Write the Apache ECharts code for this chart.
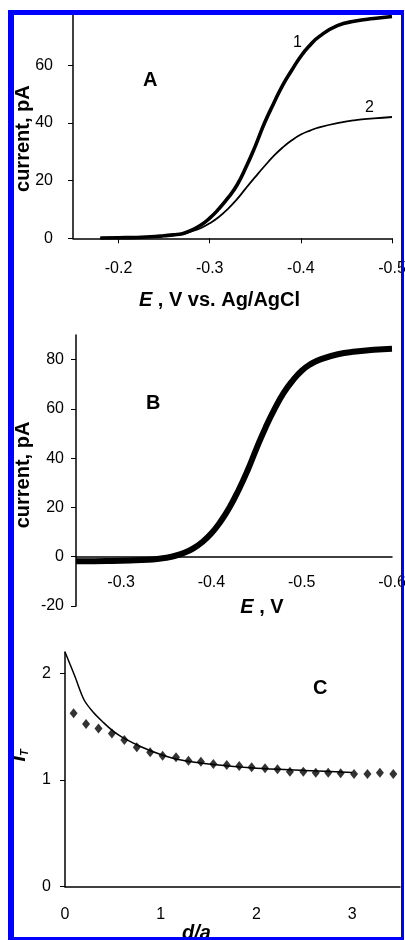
<!DOCTYPE html>
<html><head><meta charset="utf-8">
<script src="https://cdn.jsdelivr.net/npm/echarts@6/dist/echarts.min.js"></script>
<style>html,body{margin:0;padding:0;background:#fff}#c{width:405px;height:940px}</style>
</head><body><div id="c"></div>
<script>
// Panel A: potential (V vs Ag/AgCl) and currents (pA) of curves 1 and 2
const A_E = [-0.18, -0.20, -0.22, -0.24, -0.25, -0.26, -0.27, -0.28, -0.29, -0.30, -0.31, -0.32, -0.33, -0.34, -0.35, -0.36, -0.37, -0.38, -0.39, -0.40, -0.41, -0.42, -0.44, -0.46, -0.48, -0.50];
const A_I1 = [0.1, 0.2, 0.3, 0.6, 0.9, 1.2, 1.6, 2.8, 4.5, 7.0, 10.2, 14.0, 18.5, 24.8, 32.0, 39.9, 46.7, 53.1, 58.3, 63.2, 67.0, 70.0, 73.8, 75.4, 76.3, 77.0];
const A_I2 = [0.1, 0.2, 0.3, 0.6, 0.9, 1.2, 1.5, 2.4, 3.5, 5.2, 7.4, 10.2, 13.6, 17.5, 21.3, 25.0, 28.5, 31.5, 34.0, 36.0, 37.4, 38.5, 40.0, 41.0, 41.6, 42.1];
const A_xTicks = [-0.2, -0.3, -0.4, -0.5];
const A_yTicks = [0, 20, 40, 60];

// Panel B
const B_E = [-0.25, -0.27, -0.29, -0.31, -0.33, -0.34, -0.35, -0.36, -0.37, -0.38, -0.39, -0.40, -0.41, -0.42, -0.43, -0.44, -0.45, -0.46, -0.47, -0.48, -0.49, -0.50, -0.51, -0.52, -0.54, -0.56, -0.58, -0.60];
const B_I = [-1.8, -1.8, -1.7, -1.5, -1.2, -0.9, -0.4, 0.4, 1.6, 3.4, 6.0, 9.5, 14.2, 20.0, 27.0, 35.0, 44.0, 52.5, 60.0, 66.5, 71.5, 75.5, 78.2, 80.0, 82.2, 83.3, 84.0, 84.4];
const B_xTicks = [-0.3, -0.4, -0.5, -0.6];
const B_yTicks = [-20, 0, 20, 40, 60, 80];

// Panel C: theory line and experimental points (d/a vs I_T)
const C_lineX = [0, 0.1, 0.2, 0.3, 0.4, 0.5, 0.6, 0.8, 1.0, 1.2, 1.5, 2.0, 2.5, 3.0];
const C_lineY = [2.2, 1.98, 1.75, 1.63, 1.54, 1.46, 1.40, 1.31, 1.24, 1.19, 1.15, 1.11, 1.09, 1.07];
const C_ptX = [0.09, 0.22, 0.35, 0.49, 0.62, 0.75, 0.89, 1.02, 1.16, 1.29, 1.42, 1.55, 1.69, 1.82, 1.95, 2.09, 2.22, 2.35, 2.49, 2.62, 2.75, 2.88, 3.02, 3.16, 3.29, 3.43];
const C_ptY = [1.625, 1.525, 1.484, 1.437, 1.375, 1.306, 1.26, 1.228, 1.213, 1.181, 1.172, 1.15, 1.14, 1.131, 1.119, 1.11, 1.10, 1.078, 1.078, 1.069, 1.069, 1.063, 1.056, 1.056, 1.069, 1.056];
const C_xTicks = [0, 1, 2, 3];
const C_yTicks = [0, 1, 2];

const zip = (a, b) => a.map((v, i) => [v, b[i]]);
const FONT = '"Liberation Sans", Arial, sans-serif';
const lbl = (vals, margin, extra) => Object.assign({customValues: vals, color: '#000', fontSize: 16, fontFamily: FONT, margin: margin}, extra || {});
const line = {lineStyle: {color: '#000', width: 1.5}};
const nameStyle = (pad) => ({color: '#000', fontSize: 20, fontWeight: 'bold', fontFamily: FONT, padding: pad});
const richE = {e: {fontStyle: 'italic', fontWeight: 'bold', fontSize: 20, fontFamily: FONT, color: '#000'}};

const chart = echarts.init(document.getElementById('c'), null, {renderer: 'canvas'});
chart.setOption({
  animation: false,
  backgroundColor: '#fff',
  grid: [
    {left: 73, top: 15, width: 319, height: 223.3, outerBoundsMode: 'none', containLabel: false},
    {left: 76, top: 335, width: 316, height: 271, outerBoundsMode: 'none', containLabel: false},
    {left: 65, top: 652, width: 335, height: 234.7, outerBoundsMode: 'none', containLabel: false}
  ],
  xAxis: [
    {gridIndex: 0, type: 'value', min: -0.5, max: -0.15, inverse: true, splitLine: {show: false},
     axisLine: line, axisTick: {customValues: A_xTicks, length: 5, lineStyle: {color: '#000'}},
     axisLabel: lbl(A_xTicks, 22), nameMoveOverlap: false,
     name: '{e|E} , V vs. Ag/AgCl', nameLocation: 'middle', nameGap: 52,
     nameTextStyle: Object.assign(nameStyle([0, 26, 0, 0]), {rich: richE})},
    {gridIndex: 1, type: 'value', min: -0.6, max: -0.25, inverse: true, splitLine: {show: false},
     axisLine: Object.assign({onZero: true}, line), axisTick: {show: false},
     axisLabel: lbl(B_xTicks, -31), nameMoveOverlap: false,
     name: '{e|E} , V', nameLocation: 'middle', nameGap: -9,
     nameTextStyle: Object.assign(nameStyle([0, 0, 0, 56]), {rich: richE})},
    {gridIndex: 2, type: 'value', min: 0, max: 3.5, splitLine: {show: false},
     axisLine: line, axisTick: {show: false},
     axisLabel: lbl(C_xTicks, 20), nameMoveOverlap: false,
     name: 'd/a', nameLocation: 'middle', nameGap: 37,
     nameTextStyle: Object.assign(nameStyle([0, 72, 0, 0]), {fontStyle: 'italic'})}
  ],
  yAxis: [
    {gridIndex: 0, type: 'value', min: 0, max: 77.5, splitLine: {show: false},
     axisLine: line, axisTick: {customValues: A_yTicks, length: 5, lineStyle: {color: '#000'}},
     axisLabel: lbl(A_yTicks, 20), nameMoveOverlap: false,
     name: 'current, pA', nameLocation: 'middle', nameGap: 40,
     nameTextStyle: nameStyle([0, 24, 0, 0])},
    {gridIndex: 1, type: 'value', min: -20, max: 90, splitLine: {show: false},
     axisLine: line, axisTick: {customValues: B_yTicks, length: 5, lineStyle: {color: '#000'}},
     axisLabel: lbl(B_yTicks, 12), nameMoveOverlap: false,
     name: 'current, pA', nameLocation: 'middle', nameGap: 43,
     nameTextStyle: nameStyle([0, 9, 0, 0])},
    {gridIndex: 2, type: 'value', min: 0, max: 2.2, splitLine: {show: false},
     axisLine: line, axisTick: {customValues: C_yTicks, length: 5, lineStyle: {color: '#000'}},
     axisLabel: lbl(C_yTicks, 14), nameMoveOverlap: false,
     name: '{i|I}{t|T}', nameLocation: 'middle', nameGap: 35,
     nameTextStyle: {color: '#000', padding: [0, 0, 0, 28],
       rich: {i: {fontStyle: 'italic', fontWeight: 'bold', fontSize: 20, fontFamily: FONT, color: '#000'},
              t: {fontStyle: 'italic', fontWeight: 'bold', fontSize: 11, fontFamily: FONT, color: '#000', padding: [10, 0, 0, 0]}}}}
  ],
  series: [
    {type: 'line', xAxisIndex: 0, yAxisIndex: 0, data: zip(A_E, A_I1), smooth: true, showSymbol: false, lineStyle: {color: '#000', width: 3.6}},
    {type: 'line', xAxisIndex: 0, yAxisIndex: 0, data: zip(A_E, A_I2), smooth: true, showSymbol: false, lineStyle: {color: '#000', width: 1.8}},
    {type: 'line', xAxisIndex: 1, yAxisIndex: 1, data: zip(B_E, B_I), smooth: true, showSymbol: false, lineStyle: {color: '#000', width: 6}},
    {type: 'line', xAxisIndex: 2, yAxisIndex: 2, data: zip(C_lineX, C_lineY), smooth: 0.3, showSymbol: false, lineStyle: {color: '#000', width: 1.5}},
    {type: 'scatter', xAxisIndex: 2, yAxisIndex: 2, data: zip(C_ptX, C_ptY), symbol: 'diamond', symbolSize: [8, 10], itemStyle: {color: '#000'}}
  ],
  graphic: [
    {type: 'text', left: 143, top: 70, style: {text: 'A', font: 'bold 20px ' + FONT, fill: '#000'}},
    {type: 'text', left: 146, top: 393, style: {text: 'B', font: 'bold 20px ' + FONT, fill: '#000'}},
    {type: 'text', left: 313, top: 678, style: {text: 'C', font: 'bold 20px ' + FONT, fill: '#000'}},
    {type: 'text', left: 293, top: 35, style: {text: '1', font: '16px ' + FONT, fill: '#000'}},
    {type: 'text', left: 365, top: 100, style: {text: '2', font: '16px ' + FONT, fill: '#000'}},
    {type: 'rect', z: 100, shape: {x: 8, y: 10, width: 6, height: 930}, style: {fill: '#0000FF'}},
    {type: 'rect', z: 100, shape: {x: 8, y: 10, width: 396, height: 5}, style: {fill: '#0000FF'}},
    {type: 'rect', z: 100, shape: {x: 401, y: 10, width: 3, height: 930}, style: {fill: '#0000FF'}},
    {type: 'rect', z: 100, shape: {x: 8, y: 937, width: 396, height: 3}, style: {fill: '#0000FF'}}
  ]
});
</script></body></html>
